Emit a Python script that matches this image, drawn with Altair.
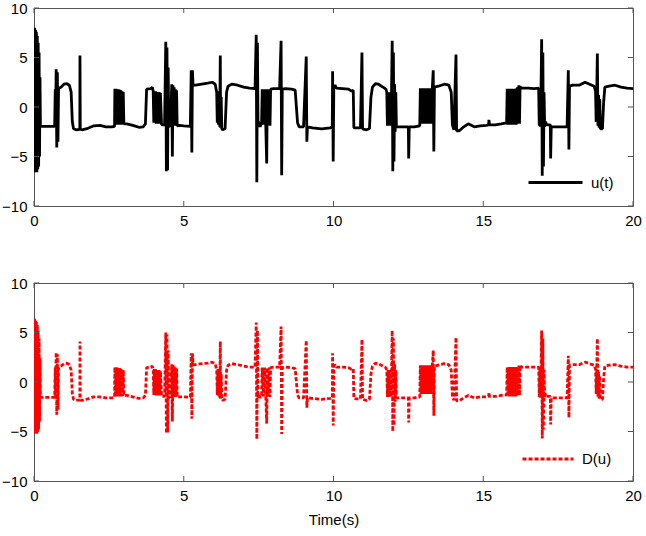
import altair as alt
import pandas as pd

# ---------------- data ----------------
time_s = [
    0.00, 0.02, 0.035, 0.05, 0.065, 0.08, 0.095, 0.11, 0.125, 0.14, 0.155, 0.17, 0.185, 0.20, 0.215,
    0.40, 0.69, 0.71, 0.72, 0.74, 0.76, 0.78, 0.80, 0.82, 0.90, 1.00, 1.10, 1.18, 1.24, 1.28, 1.32, 1.40,
    1.53, 1.535, 1.545, 1.60, 1.80, 2.00, 2.20, 2.40, 2.60, 2.69,
    2.70, 2.72, 2.74, 2.76, 2.78, 2.80, 2.82, 2.84, 2.86, 2.88, 2.90, 2.92, 2.94, 2.96, 2.98, 3.00,
    3.10, 3.30, 3.50, 3.65, 3.72, 3.76, 3.90, 3.95, 3.98,
    4.00, 4.02, 4.04, 4.06, 4.08, 4.10, 4.12, 4.14, 4.16, 4.18, 4.20, 4.22, 4.26, 4.36,
    4.40, 4.42, 4.44, 4.46, 4.48, 4.50, 4.56,
    4.60, 4.62, 4.64, 4.66, 4.68, 4.70, 4.72, 4.74, 4.76, 4.78, 4.85, 5.00, 5.22,
    5.25, 5.27, 5.29, 5.31, 5.40, 5.60, 5.80, 5.95, 6.05, 6.10,
    6.12, 6.14, 6.16, 6.18, 6.20, 6.22, 6.23, 6.25, 6.27, 6.30, 6.38, 6.43, 6.48,
    6.60, 6.80, 7.00, 7.20, 7.38, 7.42, 7.44, 7.46, 7.48,
    7.50, 7.55, 7.60, 7.62, 7.66, 7.70, 7.74, 7.77, 7.79, 7.82, 7.85, 7.88, 7.90, 8.00, 8.20,
    8.25, 8.27, 8.29, 8.40, 8.60, 8.72, 8.80, 8.85, 9.00,
    9.09, 9.11, 9.13, 9.30, 9.60, 9.90, 9.96, 9.97, 9.99, 10.01, 10.05, 10.10, 10.30, 10.50, 10.60, 10.66, 10.68,
    10.75, 10.90, 10.95, 10.97, 11.10, 11.20, 11.25, 11.30, 11.40, 11.50, 11.65, 11.75, 11.78,
    11.80, 11.82, 11.84, 11.86, 11.88, 11.90, 11.92, 11.94, 11.96, 11.98, 12.00, 12.02, 12.04, 12.06, 12.08, 12.10,
    12.20, 12.40, 12.50, 12.51, 12.53, 12.70, 12.88,
    12.90, 12.92, 12.94, 12.96, 12.98, 13.00, 13.02, 13.04, 13.06, 13.08, 13.10, 13.12, 13.14, 13.16, 13.18, 13.20,
    13.22, 13.24, 13.26, 13.28, 13.30,
    13.33, 13.35, 13.37, 13.50, 13.70, 13.85, 13.93, 13.97, 14.02,
    14.09, 14.11, 14.20, 14.35, 14.50, 14.70, 14.90, 15.10, 15.18, 15.19, 15.21, 15.40, 15.60, 15.78,
    15.80, 15.82, 15.84, 15.86, 15.88, 15.90, 15.92, 15.94, 15.96, 15.98, 16.00, 16.02, 16.04, 16.06, 16.08, 16.10,
    16.12, 16.15, 16.17, 16.19, 16.21, 16.23, 16.26, 16.50, 16.70, 16.85,
    16.87, 16.89, 16.91, 16.93, 16.95, 16.97, 16.99, 17.01, 17.03, 17.05, 17.08, 17.12, 17.20, 17.24, 17.25, 17.27,
    17.40, 17.60, 17.80, 17.84, 17.86, 17.88, 18.00, 18.20, 18.40, 18.55, 18.70, 18.75,
    18.77, 18.79, 18.81, 18.83, 18.85, 18.87, 18.89, 18.91, 18.98, 19.02, 19.06, 19.20, 19.40, 19.60, 19.80, 20.00,
]

u_values = [
    0.0, 8.0, -6.6, 7.8, -6.5, 7.6, -6.6, 7.2, -6.3, 6.5, -6.0, 5.5, -5.0, 3.0, -1.95,
    -1.95, -1.95, 1.8, -1.9, 3.8, -4.1, 3.5, -3.5, 1.9, 2.0, 2.3, 2.35, 2.2, 1.5, -1.5, -2.2, -2.3,
    -2.25, 5.2, -2.25, -2.3, -2.15, -1.9, -1.85, -2.0, -2.0, -1.95,
    1.85, -1.8, 1.85, -1.8, 1.8, -1.8, 1.8, -1.8, 1.75, -1.8, 1.7, -1.8, 1.6, -1.75, 1.5, -1.7,
    -1.7, -1.85, -2.05, -2.0, -1.7, 1.8, 1.85, 2.0, 1.6,
    -1.6, 1.6, -1.6, 1.6, -1.7, 1.5, -1.7, 1.5, -1.7, 1.5, -1.7, 1.4, -1.8, -1.8,
    6.6, -6.5, 6.0, -6.4, 4.0, -2.0, -1.8,
    2.3, -5.0, 2.2, -1.9, 2.0, -1.9, 1.8, -1.9, 1.7, -1.9, -1.85, -1.9, -1.95,
    3.7, -4.6, 3.7, 2.2, 2.2, 2.3, 2.4, 2.5, 2.3, 1.5,
    -1.6, 1.6, -1.8, 1.4, -2.0, 5.2, -2.1, 1.0, -2.2, -2.3, -2.2, 1.5, 2.1,
    2.3, 2.2, 2.0, 1.9, 1.85, 7.3, -7.6, 6.5, -2.0,
    -1.5, -2.0, -1.6, 1.8, -1.8, 1.8, -2.0, -5.7, 1.8, -1.8, 1.8, -1.9, 1.8, 1.85, 1.85,
    6.7, -6.9, 1.8, 1.85, 1.8, 1.7, -1.6, -2.0, -2.0,
    5.1, -3.5, -2.0, -2.1, -2.2, -2.1, -2.0, 3.6, -5.5, 2.0, 2.2, 1.9, 1.85, 1.8, 1.6, 1.7, -2.1,
    -2.1, -2.1, 5.5, -2.2, -2.3, -2.2, 1.0, 2.0, 2.35, 2.3, 2.0, 1.8, 1.5,
    -1.9, 1.5, -1.9, 1.5, -1.9, 1.5, -1.9, 2.0, 6.7, -6.5, 5.5, -5.5, 2.3, -2.5, 1.5, -2.0,
    -2.0, -2.0, -2.0, -5.2, -2.0, -2.0, -1.9,
    1.9, -1.7, 1.9, -1.7, 1.9, -1.7, 1.9, -1.7, 1.9, -1.7, 1.9, -1.7, 1.9, -1.7, 1.9, -1.7,
    1.9, -1.7, 1.9, -1.7, 1.9,
    3.7, -4.5, 2.0, 2.1, 2.3, 2.2, 1.5, -1.8, -2.3,
    5.3, -2.4, -2.4, -2.0, -1.7, -2.0, -1.9, -1.85, -1.8, -1.3, -1.8, -1.8, -1.7, -1.6,
    1.85, -1.8, 1.85, -1.8, 1.85, -1.8, 1.85, -1.8, 1.85, -1.8, 1.85, -1.8, 1.85, -1.8, 1.85, -1.8,
    1.85, 1.9, -1.7, 2.2, -1.7, 2.1, 1.9, 1.9, 1.85, 1.9,
    -1.9, 1.9, -2.0, 1.9, 6.85, -6.95, 5.5, -6.0, 1.5, -2.0, -1.5, -1.8, -1.8, -1.8, -5.2, -2.0,
    -2.0, -2.0, -2.0, 3.7, -4.3, 2.1, 2.2, 2.2, 2.5, 2.3, 2.1, 1.6,
    -1.5, 1.5, 5.4, -1.9, 1.2, -2.1, 0.8, -2.2, -2.2, 0.5, 2.0, 2.1, 2.2, 2.0, 1.9, 1.85,
]

d_values = [
    0.0, 6.4, -5.2, 6.2, -5.2, 6.1, -5.25, 5.8, -5.0, 5.2, -4.8, 4.4, -4.0, 2.4, -1.55,
    -1.55, -1.55, 1.45, -1.5, 3.0, -3.3, 2.8, -2.8, 1.5, 1.6, 1.85, 1.9, 1.75, 1.2, -1.2, -1.75, -1.85,
    -1.8, 4.1, -1.8, -1.85, -1.7, -1.5, -1.5, -1.6, -1.6, -1.55,
    1.5, -1.45, 1.5, -1.45, 1.45, -1.45, 1.45, -1.45, 1.4, -1.45, 1.35, -1.45, 1.3, -1.4, 1.2, -1.35,
    -1.35, -1.5, -1.65, -1.6, -1.35, 1.45, 1.5, 1.6, 1.3,
    -1.3, 1.3, -1.3, 1.3, -1.35, 1.2, -1.35, 1.2, -1.35, 1.2, -1.35, 1.1, -1.45, -1.45,
    5.0, -5.2, 4.8, -5.1, 3.2, -1.6, -1.45,
    1.8, -4.0, 1.75, -1.5, 1.6, -1.5, 1.45, -1.5, 1.35, -1.5, -1.5, -1.5, -1.55,
    2.9, -3.7, 2.9, 1.75, 1.75, 1.85, 1.9, 2.0, 1.85, 1.2,
    -1.3, 1.3, -1.45, 1.1, -1.6, 4.1, -1.7, 0.8, -1.75, -1.85, -1.75, 1.2, 1.7,
    1.85, 1.75, 1.6, 1.5, 1.5, 6.0, -5.8, 5.2, -1.6,
    -1.2, -1.6, -1.3, 1.45, -1.45, 1.45, -1.6, -4.2, 1.45, -1.45, 1.45, -1.5, 1.45, 1.5, 1.5,
    5.6, -5.25, 1.45, 1.5, 1.45, 1.35, -1.3, -1.6, -1.6,
    4.2, -2.6, -1.6, -1.65, -1.75, -1.65, -1.6, 2.9, -4.4, 1.6, 1.75, 1.5, 1.5, 1.45, 1.3, 1.35, -1.65,
    -1.7, -1.7, 4.3, -1.75, -1.85, -1.75, 0.8, 1.6, 1.9, 1.85, 1.6, 1.45, 1.2,
    -1.5, 1.2, -1.5, 1.2, -1.5, 1.2, -1.5, 1.6, 5.2, -5.0, 4.4, -4.4, 1.8, -2.0, 1.2, -1.6,
    -1.6, -1.6, -1.6, -4.1, -1.6, -1.6, -1.5,
    1.7, -1.2, 1.7, -1.2, 1.7, -1.2, 1.7, -1.2, 1.7, -1.2, 1.7, -1.2, 1.7, -1.2, 1.7, -1.2,
    1.7, -1.2, 1.7, -1.2, 1.7,
    3.2, -3.4, 1.6, 1.7, 1.85, 1.75, 1.2, -1.45, -1.85,
    4.5, -1.9, -1.9, -1.6, -1.35, -1.6, -1.5, -1.5, -1.45, -1.05, -1.45, -1.45, -1.35, -1.3,
    1.5, -1.45, 1.5, -1.45, 1.5, -1.45, 1.5, -1.45, 1.5, -1.45, 1.5, -1.45, 1.5, -1.45, 1.5, -1.45,
    1.5, 1.5, -1.35, 1.75, -1.35, 1.7, 1.5, 1.5, 1.5, 1.5,
    -1.5, 1.5, -1.6, 1.5, 5.2, -5.7, 4.4, -4.8, 1.2, -1.6, -1.2, -1.45, -1.45, -1.45, -4.3, -1.6,
    -1.6, -1.6, -1.6, 2.65, -3.6, 1.7, 1.75, 1.75, 2.0, 1.85, 1.7, 1.3,
    -1.2, 1.2, 4.4, -1.5, 1.0, -1.7, 0.6, -1.75, -1.75, 0.4, 1.6, 1.7, 1.75, 1.6, 1.5, 1.5,
]

x_ticks = [0, 5, 10, 15, 20]
y_ticks = [-10, -5, 0, 5, 10]
series_top = "u(t)"
series_bottom = "D(u)"
x_title = "Time(s)"

# ---------------- styling ----------------
W, H = 599, 198
FONT = "Liberation Sans"
FRAME = "#555555"
TICK_LEN = 5
LW = 2.8

df = pd.DataFrame({"t": time_s, "u": u_values, "d": d_values})
df["s_top"] = series_top
df["s_bot"] = series_bottom
xt = pd.DataFrame({"t": x_ticks})
yt = pd.DataFrame({"u": y_ticks, "d": y_ticks})

xscale = alt.Scale(domain=[0, 20], nice=False, zero=False)
yscale = alt.Scale(domain=[-10, 10], nice=False)


def panel(field, sfield, name, color, sym_size, leg_x, leg_y, title, dash=None):
    mark_kwargs = dict(strokeWidth=LW, strokeJoin="bevel", clip=True)
    legend_kwargs = dict(
        orient="none", legendX=leg_x, legendY=leg_y, title=None,
        symbolType="stroke", symbolSize=sym_size, symbolStrokeWidth=LW,
        labelFontSize=15, labelFont=FONT, labelColor="black", labelOffset=7,
        padding=0,
    )
    if dash is not None:
        mark_kwargs["strokeDash"] = dash
        legend_kwargs["symbolDash"] = dash
    xaxis = alt.Axis(values=x_ticks, labelFlush=False, title=title if title is not None else "")
    yaxis = alt.Axis(values=y_ticks, title="")
    X = alt.X("t:Q", scale=xscale, axis=xaxis, title=title if title is not None else "")
    Y = alt.Y(f"{field}:Q", scale=yscale, axis=yaxis, title="")
    line = alt.Chart(df).mark_line(**mark_kwargs).encode(
        x=X, y=Y,
        color=alt.Color(f"{sfield}:N", scale=alt.Scale(domain=[name], range=[color]),
                        legend=alt.Legend(**legend_kwargs)),
    )
    tb = alt.Chart(xt).mark_rule(color=FRAME, strokeWidth=1).encode(
        x=X, y=alt.value(H), y2=alt.value(H - TICK_LEN))
    tt = alt.Chart(xt).mark_rule(color=FRAME, strokeWidth=1).encode(
        x=X, y=alt.value(0), y2=alt.value(TICK_LEN))
    tl = alt.Chart(yt).mark_rule(color=FRAME, strokeWidth=1).encode(
        y=Y, x=alt.value(0), x2=alt.value(TICK_LEN))
    tr = alt.Chart(yt).mark_rule(color=FRAME, strokeWidth=1).encode(
        y=Y, x=alt.value(W), x2=alt.value(W - TICK_LEN))
    return alt.layer(line, tb, tt, tl, tr).properties(width=W, height=H)


top = panel("u", "s_top", series_top, "#000000", 2916, 493, 146, None)
bottom = panel("d", "s_bot", series_bottom, "#ff0000", 2601, 487, 149, x_title, dash=[4, 2])

chart = alt.vconcat(top, bottom, spacing=77, bounds="flush").resolve_scale(
    color="independent"
).properties(
    padding={"left": 1, "top": 0, "right": 0, "bottom": 0},
    background="white",
).configure_view(
    stroke=FRAME, strokeWidth=1
).configure_axis(
    domain=False, ticks=False, grid=False,
    labelFont=FONT, labelFontSize=15, labelColor="black", labelPadding=7,
    titleFont=FONT, titleFontSize=15, titleFontWeight="normal", titleColor="black", titlePadding=9,
)

chart.save("out.html", embed_options={"renderer": "svg", "actions": False})
